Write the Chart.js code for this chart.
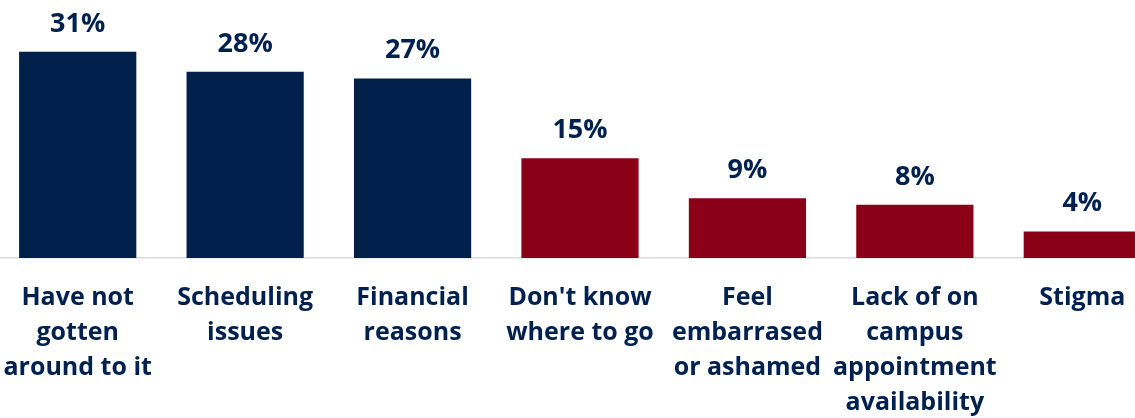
<!DOCTYPE html>
<html>
<head>
<meta charset="utf-8">
<script src="https://cdn.jsdelivr.net/npm/chart.js@4"></script>
<style>
  html, body { margin: 0; padding: 0; background: #fff; overflow: hidden; }
  #wrap { position: absolute; left: -6px; top: 0; width: 1172px; height: 418px; }
</style>
</head>
<body>
<div id="wrap"><canvas id="grafico"></canvas></div>
<script>
const categorias = [
  ["Have not", "gotten", "around to it"],
  ["Scheduling", "issues"],
  ["Financial", "reasons"],
  ["Don't know", "where to go"],
  ["Feel", "embarrased", "or ashamed"],
  ["Lack of on", "campus", "appointment", "availability"],
  ["Stigma"]
];
const valores = [31, 28, 27, 15, 9, 8, 4];
const colores = ["#001f4b", "#001f4b", "#001f4b", "#8a0017", "#8a0017", "#8a0017", "#8a0017"];

const azulTexto = "#002050";

// etiquetas encima de las barras
const etiquetas = {
  id: "etiquetas",
  afterDatasetsDraw(chart) {
    const ctx = chart.ctx;
    const meta = chart.getDatasetMeta(0);
    ctx.save();
    ctx.font = "bold 27px 'Open Sans'";
    ctx.fillStyle = azulTexto;
    ctx.textAlign = "center";
    ctx.textBaseline = "alphabetic";
    meta.data.forEach((bar, i) => {
      ctx.fillText(valores[i] + "%", bar.x, bar.y - 20);
    });
    ctx.restore();
  }
};

new Chart(document.getElementById("grafico"), {
  type: "bar",
  data: {
    labels: categorias,
    datasets: [{
      data: valores,
      backgroundColor: colores,
      barPercentage: 0.7,
      categoryPercentage: 1.0
    }]
  },
  options: {
    responsive: true,
    maintainAspectRatio: false,
    animation: false,
    layout: { padding: 0 },
    plugins: {
      legend: { display: false },
      tooltip: { enabled: false }
    },
    scales: {
      x: {
        grid: { display: false },
        border: { color: "#d9d9d9", width: 1.5 },
        afterFit(scale) {
          scale.height = 160;
          scale.paddingLeft = 0;
          scale.paddingRight = 0;
        },
        ticks: {
          color: azulTexto,
          font: { family: "'Open Sans'", weight: "bold", size: 25, lineHeight: 1.4 },
          padding: 14,
          maxRotation: 0,
          autoSkip: false
        }
      },
      y: {
        display: false,
        min: 0,
        max: 38.8
      }
    }
  },
  plugins: [etiquetas]
});
</script>
</body>
</html>
